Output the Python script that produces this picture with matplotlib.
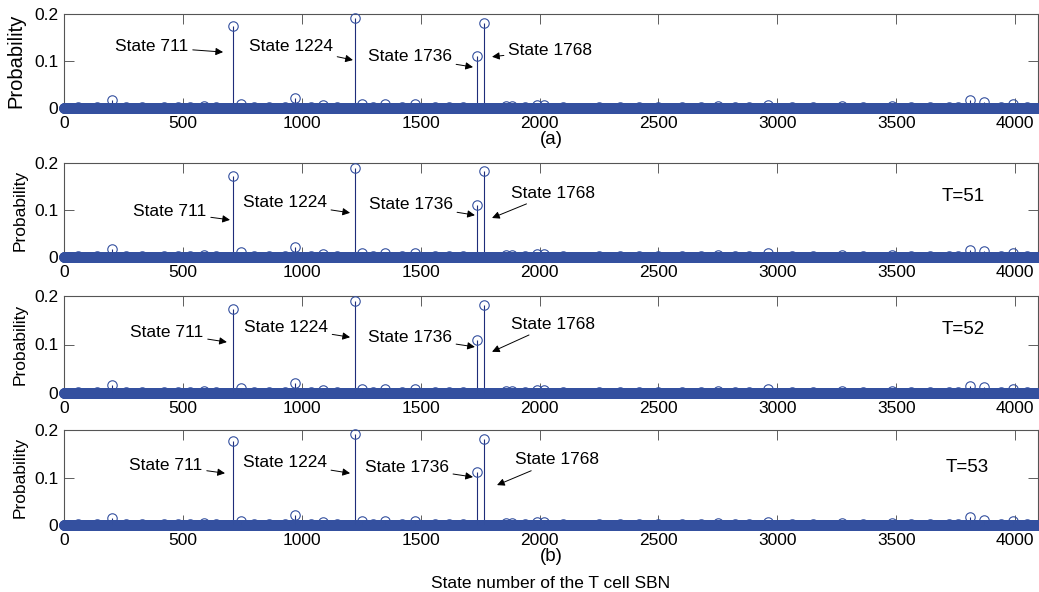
import numpy as np
import matplotlib
matplotlib.use("Agg")
import matplotlib.pyplot as plt
from matplotlib.ticker import FixedLocator, FuncFormatter

plt.rcParams["font.family"] = ["Liberation Sans", "DejaVu Sans"]

# ---- data -----------------------------------------------------------------
n_states = 4096

peak_states = [711, 1224, 1736, 1768]
peak_probs_a = [0.175, 0.191, 0.111, 0.181]
peak_probs_t51 = [0.173, 0.190, 0.110, 0.184]
peak_probs_t52 = [0.173, 0.190, 0.110, 0.182]
peak_probs_t53 = [0.177, 0.192, 0.111, 0.181]

minor_states = [200, 590, 745, 970, 1090, 1255, 1350, 1475, 1860, 1885,
                1990, 2020, 2750, 2960, 3270, 3480, 3810, 3870, 3990]
minor_probs_a = [0.016, 0.004, 0.008, 0.022, 0.006, 0.008, 0.009, 0.008, 0.005, 0.004,
                 0.006, 0.006, 0.004, 0.006, 0.004, 0.004, 0.016, 0.012, 0.008]
minor_probs_t51 = [0.017, 0.004, 0.010, 0.021, 0.006, 0.009, 0.009, 0.008, 0.005, 0.004,
                   0.007, 0.006, 0.004, 0.008, 0.004, 0.004, 0.014, 0.012, 0.008]
minor_probs_t52 = [0.016, 0.004, 0.010, 0.021, 0.006, 0.009, 0.009, 0.008, 0.005, 0.004,
                   0.007, 0.006, 0.004, 0.008, 0.004, 0.004, 0.015, 0.012, 0.008]
minor_probs_t53 = [0.015, 0.005, 0.008, 0.021, 0.006, 0.008, 0.009, 0.008, 0.005, 0.004,
                   0.006, 0.006, 0.004, 0.006, 0.004, 0.004, 0.017, 0.011, 0.008]

tiny_states = [60, 140, 260, 330, 420, 480, 530, 640, 800, 860, 930, 1040, 1150,
               1300, 1420, 1560, 1620, 1680, 1940, 2100, 2250, 2340, 2420, 2500,
               2600, 2680, 2820, 2880, 3060, 3150, 3360, 3560, 3640, 3720, 3760,
               3940, 4050]
tiny_prob = 0.003

panel_peaks = [peak_probs_a, peak_probs_t51, peak_probs_t52, peak_probs_t53]
panel_minor = [minor_probs_a, minor_probs_t51, minor_probs_t52, minor_probs_t53]
panel_tags = [None, "T=51", "T=52", "T=53"]

x_ticks = [0, 500, 1000, 1500, 2000, 2500, 3000, 3500, 4000]
y_ticks = [0, 0.1, 0.2]

# ---- label placement (data coordinates): text centre, arrow tip ----------
annotations = [
    [((370, 0.130), (669, 0.119)), ((955, 0.130), (1215, 0.102)),
     ((1455, 0.109), (1720, 0.087)), ((2044, 0.123), (1800, 0.109))],
    [((446, 0.096), (698, 0.079)), ((929, 0.115), (1203, 0.094)),
     ((1459, 0.111), (1728, 0.089)), ((2056, 0.136), (1800, 0.083))],
    [((433, 0.124), (685, 0.105)), ((934, 0.136), (1203, 0.115)),
     ((1455, 0.115), (1728, 0.095)), ((2056, 0.142), (1800, 0.085))],
    [((429, 0.126), (677, 0.109)), ((929, 0.131), (1203, 0.109)),
     ((1442, 0.122), (1720, 0.101)), ((2073, 0.137), (1821, 0.084))],
]
tag_pos = [None, (3780, 0.128), (3780, 0.130), (3800, 0.120)]

# axes rectangles in figure pixels: top and zero line
W, H = 1039, 592
left_px, right_px = 64, 1038
rows_px = [(14, 108), (163, 257), (296, 393), (430, 525)]

stem_color = "#1f2d7a"
marker_color = "#34509f"
spine_color = "#555555"

fig = plt.figure(figsize=(W / 100, H / 100), dpi=100)
states = np.arange(n_states)

for i, (top, bot) in enumerate(rows_px):
    ax = fig.add_axes([left_px / W, 1 - bot / H, (right_px - left_px) / W, (bot - top) / H])

    p = np.zeros(n_states)
    p[tiny_states] = tiny_prob
    p[minor_states] = panel_minor[i]
    p[peak_states] = panel_peaks[i]

    nz = p > 0
    ax.vlines(states[nz], 0, p[nz], color=stem_color, lw=0.8, zorder=2)
    ax.plot(states, p, "o", mfc="none", mec=marker_color, ms=6.8, mew=0.8,
            clip_on=False, zorder=3)

    ax.set_xlim(0, n_states)
    ax.set_ylim(0, 0.2)
    ax.xaxis.set_major_locator(FixedLocator(x_ticks))
    ax.yaxis.set_major_locator(FixedLocator(y_ticks))
    ax.yaxis.set_major_formatter(FuncFormatter(lambda v, _: "0" if v == 0 else f"{v:.1f}"))
    ax.tick_params(direction="in", top=True, right=True, length=7, width=0.6,
                   color="#444444", labelsize=12.5, pad=4)
    ax.tick_params(axis="x", pad=6)
    for s in ax.spines.values():
        s.set_color(spine_color)
        s.set_linewidth(0.8)

    if i == 0:
        ax.set_ylabel("Probability", fontsize=14.5)
        ax.yaxis.set_label_coords(-0.040, 0.5)
        ax.set_xlabel("(a)", fontsize=13.5, labelpad=0)
    else:
        ax.set_ylabel("Probability", fontsize=12.5)
        ax.yaxis.set_label_coords(-0.037, 0.5)

    for state, (txt, tip) in zip(peak_states, annotations[i]):
        ax.annotate(f"State {state}", xy=tip, xytext=txt, ha="center", va="center",
                    fontsize=12.5,
                    arrowprops=dict(arrowstyle="-|>", color="black", lw=0.7,
                                    shrinkA=1, shrinkB=0, mutation_scale=11))

    if panel_tags[i]:
        ax.text(*tag_pos[i], panel_tags[i], ha="center", va="center", fontsize=13.5)

    if i == 3:
        ax.set_xlabel("(b)", fontsize=13.5, labelpad=0)

fig.text((left_px + right_px) / 2 / W, 1 - 583 / H, "State number of the T cell SBN",
         ha="center", va="center", fontsize=12.5)

fig.savefig("out.png", dpi=100)
